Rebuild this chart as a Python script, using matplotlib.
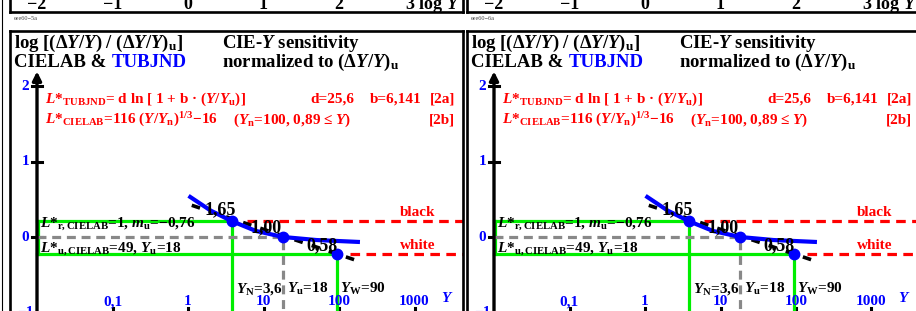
import numpy as np
import matplotlib.pyplot as plt
from matplotlib.lines import Line2D

plt.rcParams.update({
    'font.family': ['Liberation Serif', 'DejaVu Serif'],
    'font.weight': 'bold',
    'mathtext.fontset': 'custom',
    'mathtext.rm': 'Liberation Serif:bold',
    'mathtext.it': 'Liberation Serif:bold:italic',
    'mathtext.bf': 'Liberation Serif:bold',
})

W, H = 916, 311
U = 75.5            # pixel per unit (log scale, both axes)
X0, Y0 = 188, 237   # pixel position of logY=0 / value 0 inside a panel

# Daten
x_tick_pos = [-1, 0, 1, 2, 3]
x_tick_lab = ['0,1', '1', '10', '100', '1000']
y_tick_pos = [-1, 0, 1, 2]
y_tick_lab = ['\u22121', '0', '1', '2']
strip_pos = [-2, -1, 0, 1, 2]
strip_lab = ['\u22122', '\u22121', '0', '1', '2']

tub_logY = [0.03, 0.30, 0.58, 0.90, 1.26, 1.70, 2.25]
tub_val = [0.53, 0.35, 0.21, 0.08, 0.0, -0.04, -0.065]
lab_logY = [0.05, 2.20]
lab_val = [0.42, -0.30]
pt_logY = [0.58, 1.26, 1.97]
pt_val = [0.217, 0.0, -0.225]
pt_lab = ['1,65', '1,00', '0,58']

panel_codes = ['eee60\u22125a', 'eee60\u22126a']
panel_offsets = [0, 457]

GREEN = '#00ee00'
RED = '#ff0000'
BLUE = '#0000ff'
GRAY = '#888888'

fig = plt.figure(figsize=(W / 100, H / 100), dpi=100)


def px2x(px):
    return (px - X0) / U


def py2v(py):
    return (Y0 - py) / U


def add_box(left, top, right, bottom):
    ax = fig.add_axes([left / W, 1 - bottom / H, (right - left) / W, (bottom - top) / H])
    ax.set_xticks([])
    ax.set_yticks([])
    for s in ax.spines.values():
        s.set_linewidth(1.9)
    ax.patch.set_alpha(0)
    return ax


for off, code in zip(panel_offsets, panel_codes):
    # Streifen vom darüberliegenden Bild
    st = add_box(off + 10, -100, off + 463, 12)
    st.set_xlim(px2x(10), px2x(463))
    st.set_ylim(0, 1)
    for p, t in zip(strip_pos, strip_lab):
        st.text(p, 0.07, t, ha='center', va='center', fontsize=13)
    st.text(px2x(460), 0.07, '3 log $Y$', ha='right', va='center', fontsize=13)
    fig.text((off + 14) / W, 1 - 18 / H, code, fontsize=4.5, color='#444444',
             va='center', fontweight='normal')

    ax = add_box(off + 10, 31, off + 463, 400)
    ax.set_xlim(px2x(10), px2x(463))
    ax.set_ylim(py2v(400), py2v(31))

    # Achsen
    ax.annotate('', xy=(-2, 2.23), xytext=(-2, -2.1),
                arrowprops=dict(arrowstyle='-|>', lw=2.4, color='k', mutation_scale=13))
    for v in y_tick_pos:
        ax.plot([-2.06, -1.94], [v, v], color='k', lw=2.2)
    for v, t in zip(y_tick_pos, y_tick_lab):
        ax.text(-2.15, v, t, color=BLUE, ha='center', va='center', fontsize=11)
    ax.plot([-2, 3.6], [-1.0, -1.0], color='k', lw=2.2)
    for p, t in zip(x_tick_pos, x_tick_lab):
        ax.plot([p, p], [-1.0, -0.94], color='k', lw=2.2)
        ax.text(p, -0.86, t, color=BLUE, ha='center', va='center', fontsize=11)
    ax.text(3.44, -0.81, '$Y$', color=BLUE, ha='center', va='center', fontsize=11)

    # grüne Rahmenlinien
    ax.plot([-2, pt_logY[0], pt_logY[0]], [pt_val[0], pt_val[0], -2.2], color=GREEN, lw=2.3, zorder=2)
    ax.plot([-2, pt_logY[2], pt_logY[2]], [pt_val[2], pt_val[2], -2.2], color=GREEN, lw=2.3, zorder=2)
    ax.plot([-1.985, -1.985], [pt_val[2], pt_val[0]], color=GREEN, lw=2.3, zorder=2)
    # graue Linien
    ax.plot([-2, pt_logY[1], pt_logY[1]], [pt_val[1], pt_val[1], -2.2], color=GRAY, lw=2.3,
            dashes=(2.8, 1.8), zorder=2)
    # rote Linien
    ax.plot([0.78, 3.7], [pt_val[0], pt_val[0]], color=RED, lw=2.3, dashes=(3, 2), zorder=2)
    ax.plot([2.15, 3.7], [pt_val[2], pt_val[2]], color=RED, lw=2.3, dashes=(3, 2), zorder=2)
    ax.text(2.81, 0.33, 'black', color=RED, ha='left', va='center', fontsize=11)
    ax.text(2.81, -0.106, 'white', color=RED, ha='left', va='center', fontsize=11)

    # Kurven
    ax.plot(lab_logY, lab_val, color='k', lw=2.6, dashes=(2.4, 2.6), zorder=3)
    ax.plot(tub_logY, tub_val, color=BLUE, lw=3, zorder=4)
    ax.plot(pt_logY, pt_val, 'o', color=BLUE, ms=7.5, zorder=5)
    for (px_, pv), t in zip([(0.42, 0.36), (1.03, 0.12), (1.77, -0.11)], pt_lab):
        ax.text(px_, pv, t, ha='center', va='center', fontsize=13, zorder=6)

    # Beschriftungen
    ax.text(-1.96, 0.13, '$L$*$_{\\mathrm{r,CIELAB}}$=1, $m$$_{\\mathrm{u}}$=\u22120,76',
            fontsize=11, va='baseline', zorder=6)
    ax.text(-1.96, -0.20, '$L$*$_{\\mathrm{u,CIELAB}}$=49, $Y$$_{\\mathrm{u}}$=18',
            fontsize=11, va='baseline', zorder=6)
    ax.text(0.64, -0.74, '$Y$$_{\\mathrm{N}}$=3,6', fontsize=11, va='baseline')
    ax.text(1.31, -0.74, '$Y$$_{\\mathrm{u}}$=18', fontsize=11, va='baseline')
    ax.text(2.01, -0.74, '$Y$$_{\\mathrm{W}}$=90', fontsize=11, va='baseline')

    # Titel
    ax.text(-2.30, 2.50, 'log [(\u0394$Y/Y$) / (\u0394$Y/Y$)$_{\\mathrm{u}}$]', fontsize=13.5, va='baseline')
    t1 = ax.text(-2.30, 2.25, 'CIELAB & ', fontsize=13.5, va='baseline')
    ax.annotate('TUBJND', xy=(1, 0), xycoords=t1, va='bottom', ha='left',
                fontsize=13.5, color=BLUE)
    ax.text(0.45, 2.50, 'CIE-$Y$ sensitivity', fontsize=13.5, va='baseline')
    ax.text(0.45, 2.25, 'normalized to $(\u0394Y/Y)$$_{\\mathrm{u}}$', fontsize=13.5, va='baseline')

    # Formeln
    ax.text(-1.89, 1.775, '$L$*$_{\\mathrm{TUBJND}}$= d ln [ 1 + b \u00b7 ($Y/Y$$_{\\mathrm{u}}$)]',
            color=RED, fontsize=11, va='baseline')
    ax.text(1.62, 1.775, 'd=25,6', color=RED, fontsize=11, va='baseline')
    ax.text(2.41, 1.775, 'b=6,141', color=RED, fontsize=11, va='baseline')
    ax.text(3.54, 1.775, '[2a]', color=RED, fontsize=11, va='baseline', ha='right')
    ax.text(-1.89, 1.50, '$L$*$_{\\mathrm{CIELAB}}$=116 ($Y/Y$$_{\\mathrm{n}}$)$^{\\mathrm{1/3}}$\u221216',
            color=RED, fontsize=11, va='baseline')
    ax.text(0.60, 1.50, '($Y$$_{\\mathrm{n}}$=100, 0,89 \u2264 $Y$)', color=RED, fontsize=11, va='baseline')
    ax.text(3.54, 1.50, '[2b]', color=RED, fontsize=11, va='baseline', ha='right')

fig.add_artist(Line2D([1.5 / W, 1.5 / W], [0, 1], color='k', lw=0.8))

fig.savefig('out.png', dpi=100)
